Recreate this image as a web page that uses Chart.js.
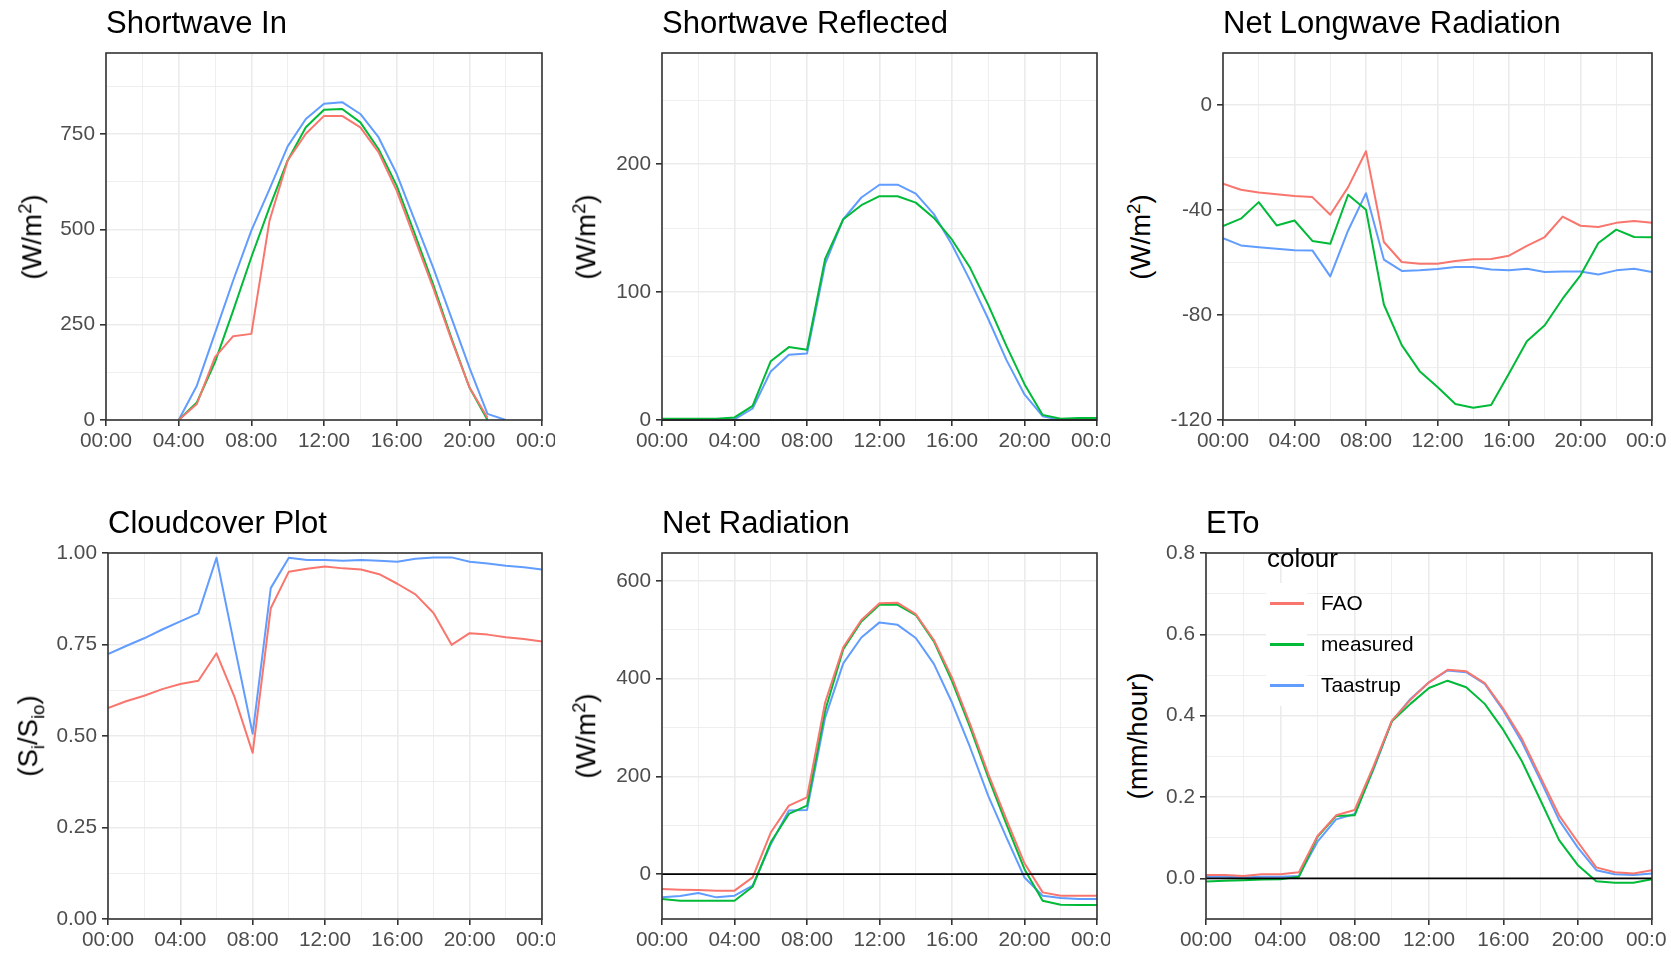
<!DOCTYPE html>
<html>
<head>
<meta charset="utf-8">
<script src="https://cdn.jsdelivr.net/npm/chart.js@4.4.1/dist/chart.umd.min.js"></script>
<style>
    body { margin: 0; background: #fff; font-family: 'Liberation Sans', Arial, sans-serif; }
    #stage { position: relative; width: 1671px; height: 953px; overflow: hidden; background: #fff; }
    canvas { position: absolute; }
    .title { position: absolute; font-size: 31px; line-height: 31px; color: #000; white-space: nowrap; }
    .ytitle { position: absolute; font-size: 27.5px; line-height: 27.5px; color: #000; white-space: nowrap;
              transform: translate(-50%, -50%) rotate(-90deg); }
    .ytitle sup, .ytitle sub { font-size: 68%; line-height: 0; }
    .lg { position: absolute; color: #000; white-space: nowrap; }
    .lg-title { font-size: 26px; line-height: 26px; }
    .lg-key { background: #fff; width: 41px; height: 41px; }
    .lg-line { position: absolute; left: 4px; top: 19px; width: 34px; height: 2.5px; }
    .lg-text { font-size: 20.8px; line-height: 20.8px; }
</style>
</head>
<body>
<div id="stage"></div>
<script>
// Hourly values, 00:00 to 00:00 next day
const HOURS = [0, 1, 2, 3, 4, 5, 6, 7, 8, 9, 10, 11, 12, 13, 14, 15, 16, 17, 18, 19, 20, 21, 22, 23, 24];

const SERIES_NAMES = ['FAO', 'measured', 'Taastrup'];
const SERIES_COLORS = ['#F8766D', '#00BA38', '#619CFF'];

// Shortwave In (W/m2)
const swInFao = [null, null, null, null, 0, 42, 165, 220, 226, 523, 681, 751, 798, 798, 768, 703, 602, 475, 348, 213, 86, 6, null, null, null];
const swInMeasured = [null, null, null, null, 0, 46, 152, 287, 427, 558, 681, 768, 814, 816, 781, 711, 615, 488, 357, 217, 86, 0, null, null, null];
const swInTaastrup = [null, null, null, null, 0, 90, 228, 366, 497, 606, 718, 790, 830, 834, 803, 742, 646, 523, 401, 270, 138, 16, 0, null, null];

// Shortwave Reflected (W/m2)
const swRefMeasured = [1, 1, 1, 1, 2, 11, 46, 57, 55, 126, 157, 168, 175, 175, 170, 158, 141, 119, 90, 58, 28, 4, 1, 1.5, 1.5];
const swRefTaastrup = [0.5, 0.5, 0.5, 0.5, 0.5, 9, 38, 51, 52, 122, 157, 174, 184, 184, 177, 161, 137, 109, 79, 47, 20, 3, 0, 0, 0];

// Net Longwave Radiation (W/m2)
const lwFao = [-30, -32.3, -33.3, -34, -34.7, -35.1, -41.8, -31.3, -17.6, -52.2, -59.8, -60.5, -60.5, -59.4, -58.8, -58.7, -57.4, -53.7, -50.3, -42.5, -46, -46.5, -44.9, -44.2, -44.9];
const lwMeasured = [-46.1, -43.3, -37, -45.9, -44, -51.8, -52.9, -34.2, -39.9, -76, -91.5, -101.4, -107.4, -113.9, -115.3, -114.3, -102.3, -90, -83.9, -73.8, -64.9, -52.6, -47.5, -50.3, -50.4];
const lwTaastrup = [-50.7, -53.5, -54.2, -54.8, -55.3, -55.4, -65.3, -47.8, -33.6, -58.9, -63.2, -63, -62.5, -61.7, -61.7, -62.7, -63, -62.4, -63.6, -63.4, -63.4, -64.6, -63, -62.4, -63.6];

// Cloudcover (Si/Sio)
const cloudFao = [0.576, 0.595, 0.610, 0.628, 0.642, 0.651, 0.726, 0.606, 0.454, 0.849, 0.949, 0.957, 0.963, 0.958, 0.955, 0.942, 0.916, 0.887, 0.836, 0.749, 0.781, 0.777, 0.770, 0.765, 0.758];
const cloudTaastrup = [0.724, 0.746, 0.767, 0.791, 0.813, 0.835, 0.987, 0.745, 0.506, 0.904, 0.987, 0.981, 0.981, 0.979, 0.981, 0.979, 0.976, 0.984, 0.988, 0.988, 0.976, 0.971, 0.965, 0.961, 0.955];

// Net Radiation (W/m2)
const rnFao = [-30.7, -32, -32.7, -34, -34, -6.8, 85, 140, 157, 351, 464, 520, 554, 555, 532, 479, 402, 307, 205, 112, 22, -37.5, -44.3, -44.3, -44.3];
const rnMeasured = [-51, -54.5, -54.5, -54.5, -54.5, -26, 65, 123, 140, 334, 460, 517, 551, 551, 530, 476, 395, 300, 198, 102, 10, -54.5, -62.7, -63.4, -63.4];
const rnTaastrup = [-47.7, -45, -38.9, -47.7, -44.3, -23.9, 61, 130, 131, 320, 431, 484, 515, 510, 483, 430, 351, 259, 160, 75, -7, -44.3, -49, -51, -51];

// ETo (mm/hour)
const etoFao = [0.008, 0.008, 0.006, 0.010, 0.010, 0.015, 0.104, 0.155, 0.168, 0.274, 0.388, 0.439, 0.482, 0.513, 0.509, 0.480, 0.417, 0.343, 0.249, 0.155, 0.090, 0.027, 0.015, 0.012, 0.020];
const etoMeasured = [-0.008, -0.006, -0.005, -0.003, -0.002, 0.004, 0.102, 0.153, 0.155, 0.270, 0.386, 0.429, 0.468, 0.486, 0.470, 0.429, 0.365, 0.288, 0.192, 0.094, 0.033, -0.007, -0.011, -0.011, -0.002];
const etoTaastrup = [0.004, 0.004, 0.002, 0.004, 0.004, 0.006, 0.090, 0.145, 0.158, 0.266, 0.386, 0.441, 0.482, 0.511, 0.507, 0.478, 0.413, 0.335, 0.241, 0.143, 0.076, 0.020, 0.010, 0.008, 0.012];

// Panel layout (canvas box and plot area in page pixels)
const panels = [
    { title: 'Shortwave In', yTitle: '(W/m<sup>2</sup>)', yTitleX: 32,
      canvas: { l: 40, t: 30, r: 555, b: 460 }, area: { l: 106, t: 53, r: 542, b: 420 },
      y: { min: 0, max: 963, step: 125, major: 250, digits: 0 }, zero: false,
      series: [swInFao, swInMeasured, swInTaastrup] },
    { title: 'Shortwave Reflected', yTitle: '(W/m<sup>2</sup>)', yTitleX: 586,
      canvas: { l: 600, t: 30, r: 1110, b: 460 }, area: { l: 662, t: 53, r: 1097, b: 420 },
      y: { min: 0, max: 287, step: 50, major: 100, digits: 0 }, zero: true,
      series: [null, swRefMeasured, swRefTaastrup] },
    { title: 'Net Longwave Radiation', yTitle: '(W/m<sup>2</sup>)', yTitleX: 1141,
      canvas: { l: 1160, t: 30, r: 1666, b: 460 }, area: { l: 1223, t: 53, r: 1652, b: 420 },
      y: { min: -120, max: 19.8, step: 20, major: 40, digits: 0 }, zero: false,
      series: [lwFao, lwMeasured, lwTaastrup] },
    { title: 'Cloudcover Plot', yTitle: '(S<sub>i</sub>/S<sub>io</sub>)', yTitleX: 28,
      canvas: { l: 40, t: 530, r: 555, b: 953 }, area: { l: 108, t: 553, r: 542, b: 919 },
      y: { min: 0, max: 1, step: 0.125, major: 0.25, digits: 2 }, zero: false,
      series: [cloudFao, null, cloudTaastrup] },
    { title: 'Net Radiation', yTitle: '(W/m<sup>2</sup>)', yTitleX: 586,
      canvas: { l: 600, t: 530, r: 1110, b: 953 }, area: { l: 662, t: 553, r: 1097, b: 919 },
      y: { min: -92, max: 657, step: 100, major: 200, digits: 0 }, zero: true,
      series: [rnFao, rnMeasured, rnTaastrup] },
    { title: 'ETo', yTitle: '(mm/hour)', yTitleX: 1138,
      canvas: { l: 1160, t: 530, r: 1666, b: 953 }, area: { l: 1206, t: 553, r: 1652, b: 919 },
      y: { min: -0.1, max: 0.8, step: 0.1, major: 0.2, digits: 1 }, zero: true,
      series: [etoFao, etoMeasured, etoTaastrup], legend: true }
];

const TICK_FONT = { family: "'Liberation Sans', Arial, sans-serif", size: 20.8 };

function isMajor(v, major) {
    const r = v / major;
    return Math.abs(r - Math.round(r)) < 1e-6;
}

function fmtHour(v) {
    return String(v % 24).padStart(2, '0') + ':00';
}

// ticks on every multiple of step inside [min, max]
function stepTicks(scale, step) {
    const ticks = [];
    const k0 = Math.ceil(scale.min / step - 1e-9);
    const k1 = Math.floor(scale.max / step + 1e-9);
    for (let k = k0; k <= k1; k++) {
        ticks.push({ value: Math.round(k * step * 1e6) / 1e6 });
    }
    scale.ticks = ticks;
}

function gridFor(major) {
    return {
        color: '#EBEBEB',
        lineWidth: ctx => isMajor(ctx.tick.value, major) ? 1.6 : 0.8,
        tickColor: ctx => isMajor(ctx.tick.value, major) ? '#333333' : 'rgba(0,0,0,0)',
        tickWidth: 1.6,
        tickLength: 6,
        drawTicks: true
    };
}

// panel border + optional black zero line
const framePlugin = {
    id: 'frame',
    afterDatasetsDraw(chart, args, opts) {
        const { ctx, chartArea: a } = chart;
        ctx.save();
        if (opts.zero) {
            const py = chart.scales.y.getPixelForValue(0);
            ctx.strokeStyle = '#000';
            ctx.lineWidth = 1.8;
            ctx.beginPath();
            ctx.moveTo(a.left, py);
            ctx.lineTo(a.right, py);
            ctx.stroke();
        }
        ctx.strokeStyle = '#333333';
        ctx.lineWidth = 1.6;
        ctx.strokeRect(a.left, a.top, a.right - a.left, a.bottom - a.top);
        ctx.restore();
    }
};

function addText(cls, html, css) {
    const el = document.createElement('div');
    el.className = cls;
    el.innerHTML = html;
    Object.assign(el.style, css);
    document.getElementById('stage').appendChild(el);
    return el;
}

function initPanel(p) {
    const c = p.canvas, a = p.area;
    const canvas = document.createElement('canvas');
    canvas.width = c.r - c.l;
    canvas.height = c.b - c.t;
    canvas.style.left = c.l + 'px';
    canvas.style.top = c.t + 'px';
    document.getElementById('stage').appendChild(canvas);

    const datasets = [];
    p.series.forEach((vals, i) => {
        if (!vals) return;
        datasets.push({
            label: SERIES_NAMES[i],
            data: HOURS.map((h, k) => ({ x: h, y: vals[k] })),
            borderColor: SERIES_COLORS[i],
            borderWidth: 2,
            borderJoinStyle: 'round',
            pointRadius: 0,
            fill: false,
            tension: 0,
            order: i
        });
    });

    new Chart(canvas.getContext('2d'), {
        type: 'line',
        data: { datasets },
        options: {
            responsive: false,
            animation: false,
            devicePixelRatio: 1,
            events: [],
            layout: {
                autoPadding: false,
                padding: { left: 0, top: a.t - c.t, right: c.r - a.r, bottom: 0 }
            },
            plugins: {
                legend: { display: false },
                tooltip: { enabled: false },
                frame: { zero: p.zero }
            },
            scales: {
                x: {
                    type: 'linear',
                    min: 0,
                    max: 24,
                    grid: gridFor(4),
                    border: { display: false },
                    afterBuildTicks: s => stepTicks(s, 2),
                    ticks: {
                        autoSkip: false,
                        maxRotation: 0,
                        padding: 3,
                        color: '#4D4D4D',
                        font: TICK_FONT,
                        callback: v => isMajor(v, 4) ? fmtHour(v) : ''
                    },
                    afterFit: s => { s.height = c.b - a.b; s.paddingLeft = 0; s.paddingRight = 0; }
                },
                y: {
                    type: 'linear',
                    min: p.y.min,
                    max: p.y.max,
                    grid: gridFor(p.y.major),
                    border: { display: false },
                    afterBuildTicks: s => stepTicks(s, p.y.step),
                    ticks: {
                        autoSkip: false,
                        padding: 5,
                        color: '#4D4D4D',
                        font: TICK_FONT,
                        callback: v => isMajor(v, p.y.major) ? v.toFixed(p.y.digits) : ''
                    },
                    afterFit: s => { s.width = a.l - c.l; s.paddingTop = 0; s.paddingBottom = 0; }
                }
            }
        },
        plugins: [framePlugin]
    });

    // titles
    addText('title', p.title, { left: a.l + 'px', top: (a.t - 46.2) + 'px' });
    addText('ytitle', p.yTitle, { left: p.yTitleX + 'px', top: ((a.t + a.b) / 2) + 'px' });

    if (p.legend) renderLegend(a);
}

function renderLegend(a) {
    const x0 = a.l + 60;
    addText('lg lg-title', 'colour', { left: (x0 + 1) + 'px', top: (a.t - 8) + 'px' });
    SERIES_NAMES.forEach((name, i) => {
        const top = a.t + 30 + i * 41;
        const key = addText('lg lg-key', '', { left: x0 + 'px', top: top + 'px' });
        const line = document.createElement('div');
        line.className = 'lg-line';
        line.style.background = SERIES_COLORS[i];
        key.appendChild(line);
        addText('lg lg-text', name, { left: (x0 + 55) + 'px', top: (top + 10) + 'px' });
    });
}

panels.forEach(initPanel);
</script>
</body>
</html>
